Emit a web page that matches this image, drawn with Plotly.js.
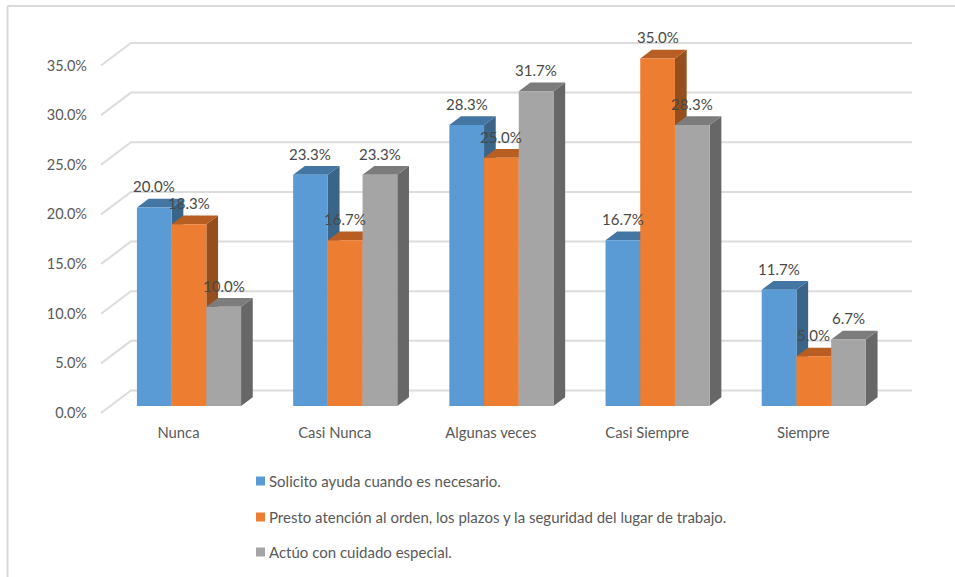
<!DOCTYPE html>
<html>
<head>
<meta charset="utf-8">
<script src="https://cdn.plot.ly/plotly-3.0.1.min.js"></script>
<style>html,body{margin:0;padding:0;background:#fff;overflow:hidden}</style>
</head>
<body>
<div id="chart" style="width:955px;height:577px"></div>
<script>
const categories = ["Nunca", "Casi Nunca", "Algunas veces", "Casi Siempre", "Siempre"];
const seriesNames = [
  "Solicito ayuda cuando es necesario.",
  "Presto atención al orden, los plazos y la seguridad del lugar de trabajo.",
  "Actúo con cuidado especial."
];
const solicito = [20.0, 23.3, 28.3, 16.7, 11.7];
const presto = [18.3, 16.7, 25.0, 35.0, 5.0];
const actuo = [10.0, 23.3, 31.7, 28.3, 6.7];
const yTicks = [0, 5, 10, 15, 20, 25, 30, 35];
const frontColors = ["#5B9BD5", "#ED7D31", "#A5A5A5"];
const topColors = ["#4376A3", "#B85E22", "#7C7C7C"];
const sideColors = ["#3A6488", "#954F1C", "#676767"];

const series = [solicito, presto, actuo];
const W = 955, H = 577;
const plot = {l: 88, r: 925, t: 20, b: 422};
const catPx = 156.2, yPx = 9.93;
const bar0Px = 189.0, barBasePx = 406;        // bar plane: centre of first category, y of 0
const frontDx = 10.5, frontDy = 7;            // chart floor front edge relative to the bar plane
const backDx = 19.5, backDy = 15.5;           // back wall relative to the bar plane
const depthDx = 11.7, depthDy = 8.7;          // depth of each bar
const barWidth = (1 - 1 / 3) / 3;

const ux = p => p / catPx, uy = p => p / yPx;
const xRange = [(plot.l - bar0Px) / catPx, (plot.r - bar0Px) / catPx];
const yRange = [(barBasePx - plot.b) / yPx, (barBasePx - plot.t) / yPx];
const px2paperX = p => (p - plot.l) / (plot.r - plot.l);
const px2paperY = p => (plot.b - p) / (plot.b - plot.t);

const poly = pts => "M" + pts.map(p => p[0] + "," + p[1]).join("L") + "Z";
const shapes = [];

// back wall and side wall gridlines
const xFront = xRange[0] + ux(101 - plot.l);
const xBack = xRange[0] + ux(131 - plot.l);
const xEnd = xBack + categories.length;
yTicks.forEach(v => {
  const yf = v - uy(frontDy), yb = v + uy(backDy);
  shapes.push({
    type: "path", layer: "below", xref: "x", yref: "y",
    path: `M${xFront},${yf}L${xBack},${yb}L${xEnd},${yb}`,
    line: {color: "#DCDCDC", width: 2}
  });
});

// depth faces of the bars, painted left to right
categories.forEach((c, i) => {
  series.forEach((vals, s) => {
    const x0 = i + (s - 1.5) * barWidth, x1 = x0 + barWidth, v = vals[i];
    const dx = ux(depthDx), dy = uy(depthDy);
    shapes.push({
      type: "path", layer: "below", xref: "x", yref: "y",
      path: poly([[x1, 0], [x1 + dx, dy], [x1 + dx, v + dy], [x1, v]]),
      fillcolor: sideColors[s], line: {width: 0}
    });
    shapes.push({
      type: "path", layer: "below", xref: "x", yref: "y",
      path: poly([[x0, v], [x0 + dx, v + dy], [x1 + dx, v + dy], [x1, v]]),
      fillcolor: topColors[s], line: {width: 0}
    });
  });
});

// page frame
shapes.push({type: "line", xref: "paper", yref: "paper",
  x0: px2paperX(7.5), x1: px2paperX(7.5), y0: px2paperY(6), y1: px2paperY(H),
  line: {color: "#D9D9D9", width: 2}});
shapes.push({type: "line", xref: "paper", yref: "paper",
  x0: px2paperX(7.5), x1: px2paperX(W), y0: px2paperY(6), y1: px2paperY(6),
  line: {color: "#D9D9D9", width: 2}});

const fontFamily = "Lato, 'Open Sans', sans-serif";
const annotations = [];

// data labels
series.forEach((vals, s) => {
  vals.forEach((v, i) => {
    annotations.push({
      x: i + (s - 1) * barWidth, y: v, xref: "x", yref: "y",
      yshift: 21, showarrow: false, xanchor: "center", yanchor: "middle",
      text: v.toFixed(1) + "%",
      font: {family: fontFamily, size: 15, color: "#484848"}
    });
  });
});

// legend
const legendY = [481, 517, 552];
seriesNames.forEach((name, s) => {
  shapes.push({type: "rect", xref: "paper", yref: "paper",
    x0: px2paperX(256), x1: px2paperX(265),
    y0: px2paperY(legendY[s] - 4.5), y1: px2paperY(legendY[s] + 4.5),
    fillcolor: frontColors[s], line: {width: 0}});
  annotations.push({
    x: px2paperX(267), y: px2paperY(legendY[s]), xref: "paper", yref: "paper",
    showarrow: false, xanchor: "left", yanchor: "middle", text: name,
    font: {family: fontFamily, size: 15, color: "#595959"}
  });
});

const traces = series.map((vals, s) => ({
  type: "bar", name: seriesNames[s],
  x: categories.map((c, i) => i), y: vals,
  marker: {color: frontColors[s], line: {width: 0}},
  xaxis: "x", yaxis: "y", hoverinfo: "skip", showlegend: false
}));
// carries the front-edge axes that hold the tick labels
traces.push({
  type: "scatter", mode: "markers", x: categories.map((c, i) => i), y: categories.map(() => 0),
  marker: {opacity: 0}, xaxis: "x2", yaxis: "y2", hoverinfo: "skip", showlegend: false
});

const layout = {
  width: W, height: H,
  margin: {l: plot.l, r: W - plot.r, t: plot.t, b: H - plot.b, pad: 0},
  paper_bgcolor: "#fff", plot_bgcolor: "rgba(0,0,0,0)",
  barmode: "group", bargap: 1 / 3, bargroupgap: 0, showlegend: false,
  xaxis: {range: xRange, visible: false, fixedrange: true},
  yaxis: {range: yRange, visible: false, fixedrange: true},
  xaxis2: {
    overlaying: "x", anchor: "y2", side: "bottom", fixedrange: true,
    range: [xRange[0] + ux(frontDx), xRange[1] + ux(frontDx)],
    tickmode: "array", tickvals: categories.map((c, i) => i), ticktext: categories,
    showgrid: false, zeroline: false, showline: false, ticks: "",
    tickfont: {family: fontFamily, size: 14.8, color: "#595959"}
  },
  yaxis2: {
    overlaying: "y", anchor: "x2", side: "left", fixedrange: true,
    range: [yRange[0] + uy(frontDy), yRange[1] + uy(frontDy)],
    tickmode: "array", tickvals: yTicks, ticktext: yTicks.map(v => v.toFixed(1) + "%"),
    showgrid: false, zeroline: false, showline: false, ticks: "",
    tickfont: {family: fontFamily, size: 14.5, color: "#595959"}
  },
  shapes, annotations
};
Plotly.newPlot("chart", traces, layout, {displayModeBar: false, staticPlot: true});
</script>
</body>
</html>
